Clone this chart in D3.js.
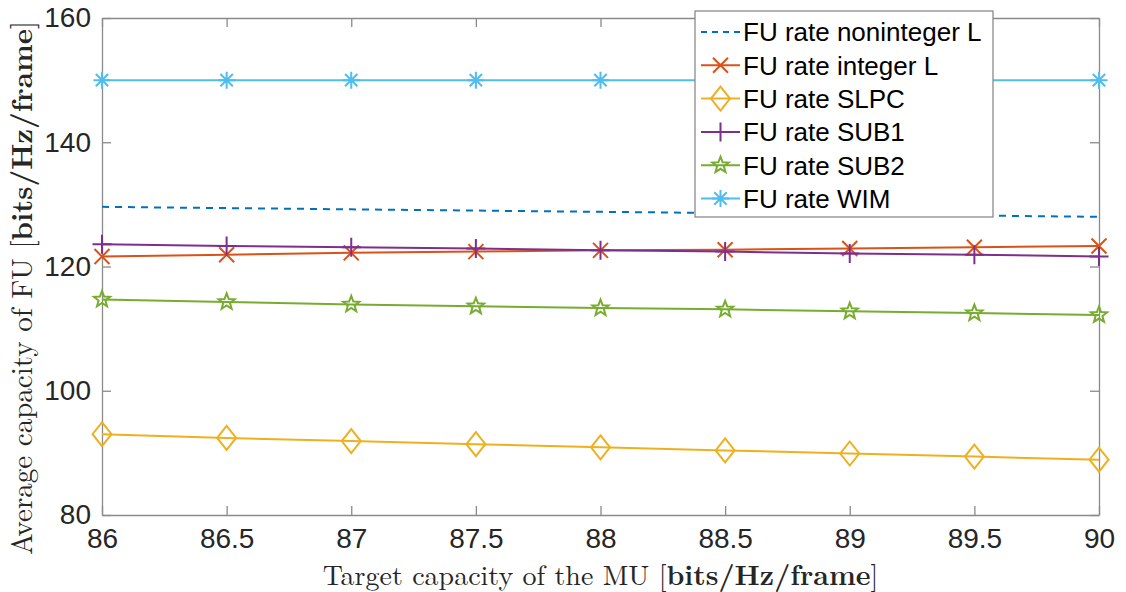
<!DOCTYPE html>
<html>
<head>
<meta charset="utf-8">
<script src="https://cdn.jsdelivr.net/npm/d3@7"></script>
<style>
  body { margin: 0; background: #fff; }
  svg { display: block; }
</style>
</head>
<body>
<svg id="chart" width="1126" height="592"></svg>
<script>
// target capacity of the MU
var xVals = [86, 86.5, 87, 87.5, 88, 88.5, 89, 89.5, 90];

var nonintegerL = [129.6, 129.4, 129.2, 129.0, 128.8, 128.6, 128.4, 128.2, 128.0];
var integerL    = [121.6, 121.9, 122.2, 122.4, 122.6, 122.7, 122.9, 123.1, 123.3];
var slpc        = [93.0, 92.4, 91.9, 91.4, 90.9, 90.4, 89.9, 89.4, 88.9];
var sub1        = [123.6, 123.3, 123.1, 122.9, 122.6, 122.4, 122.1, 121.9, 121.6];
var sub2        = [114.7, 114.3, 113.9, 113.6, 113.3, 113.1, 112.8, 112.5, 112.2];
var wim         = [150, 150, 150, 150, 150, 150, 150, 150, 150];

var seriesNames = ["FU rate noninteger L", "FU rate integer L", "FU rate SLPC",
                   "FU rate SUB1", "FU rate SUB2", "FU rate WIM"];

var xTicks = [86, 86.5, 87, 87.5, 88, 88.5, 89, 89.5, 90];
var yTicks = [80, 100, 120, 140, 160];

var series = [
    {name: seriesNames[0], values: nonintegerL, color: "#0072BD", dash: "7,6", marker: null},
    {name: seriesNames[1], values: integerL,    color: "#D95319", dash: null,  marker: "x"},
    {name: seriesNames[2], values: slpc,        color: "#EDB120", dash: null,  marker: "diamond"},
    {name: seriesNames[3], values: sub1,        color: "#7E2F8E", dash: null,  marker: "plus"},
    {name: seriesNames[4], values: sub2,        color: "#77AC30", dash: null,  marker: "star"},
    {name: seriesNames[5], values: wim,         color: "#4DBEEE", dash: null,  marker: "asterisk"}
];

const margin = {top: 18, right: 27, bottom: 77, left: 102};
const width = 1126 - margin.left - margin.right;
const height = 592 - margin.top - margin.bottom;

const svg = d3.select("#chart");
const G = svg.append("g").attr("transform", "translate(" + margin.left + "," + margin.top + ")");

const x = d3.scaleLinear().domain([86, 90]).range([0, width]);
const y = d3.scaleLinear().domain([80, 160]).range([height, 0]);

const axisColor = "#8a8a8a";
const textColor = "#262626";
const tickFont = "'Liberation Sans', Arial, sans-serif";
const tickLen = 9;

// axes (ticks inward on all four sides)
function styleAxis(g) {
    g.selectAll("path.domain").attr("stroke", axisColor).attr("stroke-width", 1.3);
    g.selectAll(".tick line").attr("stroke", axisColor).attr("stroke-width", 1.3);
    g.selectAll(".tick text").attr("fill", textColor)
        .style("font-family", tickFont).style("font-size", "28px");
}

G.append("g")
    .attr("transform", "translate(0," + height + ")")
    .call(d3.axisBottom(x).tickValues(xTicks).tickSizeInner(-tickLen).tickSizeOuter(0)
        .tickPadding(13).tickFormat(d3.format("")))
    .call(styleAxis);

G.append("g")
    .call(d3.axisTop(x).tickValues(xTicks).tickSizeInner(-tickLen).tickSizeOuter(0).tickFormat(""))
    .call(styleAxis);

G.append("g")
    .call(d3.axisLeft(y).tickValues(yTicks).tickSizeInner(-tickLen).tickSizeOuter(0).tickPadding(11))
    .call(styleAxis);

G.append("g")
    .attr("transform", "translate(" + width + ",0)")
    .call(d3.axisRight(y).tickValues(yTicks).tickSizeInner(-tickLen).tickSizeOuter(0).tickFormat(""))
    .call(styleAxis);

// markers
function markerPath(type) {
    var p = d3.path();
    if (type === "x") {
        var s = 7.5;
        p.moveTo(-s, -s); p.lineTo(s, s);
        p.moveTo(-s, s); p.lineTo(s, -s);
    } else if (type === "plus") {
        var s = 9.5;
        p.moveTo(-s, 0); p.lineTo(s, 0);
        p.moveTo(0, -s); p.lineTo(0, s);
    } else if (type === "asterisk") {
        var s = 8.5, d = 6.2;
        p.moveTo(-s, 0); p.lineTo(s, 0);
        p.moveTo(0, -s); p.lineTo(0, s);
        p.moveTo(-d, -d); p.lineTo(d, d);
        p.moveTo(-d, d); p.lineTo(d, -d);
    } else if (type === "diamond") {
        p.moveTo(0, -12); p.lineTo(9.5, 0); p.lineTo(0, 12); p.lineTo(-9.5, 0); p.closePath();
    } else if (type === "star") {
        var R = 8.5, r = 3.6;
        for (var i = 0; i < 10; i++) {
            var a = -Math.PI / 2 + i * Math.PI / 5;
            var rad = i % 2 === 0 ? R : r;
            if (i === 0) p.moveTo(rad * Math.cos(a), rad * Math.sin(a));
            else p.lineTo(rad * Math.cos(a), rad * Math.sin(a));
        }
        p.closePath();
    }
    return p.toString();
}

const line = d3.line()
    .x(function(d, i) { return x(xVals[i]); })
    .y(function(d) { return y(d); });

series.forEach(function(s) {
    const sg = G.append("g").attr("class", "series");
    sg.append("path")
        .attr("d", line(s.values))
        .attr("fill", "none")
        .attr("stroke", s.color)
        .attr("stroke-width", 2)
        .attr("stroke-dasharray", s.dash);

    if (s.marker) {
        sg.selectAll(".marker")
            .data(s.values)
            .enter()
            .append("path")
            .attr("class", "marker")
            .attr("transform", function(d, i) { return "translate(" + x(xVals[i]) + "," + y(d) + ")"; })
            .attr("d", markerPath(s.marker))
            .attr("fill", "none")
            .attr("stroke", s.color)
            .attr("stroke-width", 2);
    }
});

// legend
const legend = svg.append("g").attr("transform", "translate(695,11)");
legend.append("rect")
    .attr("width", 298)
    .attr("height", 206)
    .attr("fill", "#fff")
    .attr("stroke", "#8a8a8a")
    .attr("stroke-width", 1.3);

const rows = legend.selectAll(".row")
    .data(series)
    .enter()
    .append("g")
    .attr("class", "row")
    .attr("transform", function(d, i) { return "translate(0," + (21 + i * 33.3) + ")"; });

rows.append("line")
    .attr("x1", 6).attr("x2", 45)
    .attr("stroke", function(d) { return d.color; })
    .attr("stroke-width", 2)
    .attr("stroke-dasharray", function(d) { return d.dash ? "6,5" : null; });

rows.filter(function(d) { return d.marker; })
    .append("path")
    .attr("transform", "translate(25.5,0)")
    .attr("d", function(d) { return markerPath(d.marker); })
    .attr("fill", "none")
    .attr("stroke", function(d) { return d.color; })
    .attr("stroke-width", 2);

rows.append("text")
    .attr("x", 48)
    .attr("dy", "0.36em")
    .attr("fill", "#000")
    .style("font-family", tickFont)
    .style("font-size", "26px")
    .text(function(d) { return d.name; });

// axis titles
const serif = "'Latin Modern Roman', 'CMU Serif', 'Liberation Serif', 'DejaVu Serif', serif";

const xt = svg.append("text")
    .attr("x", margin.left + width / 2)
    .attr("y", 585)
    .attr("text-anchor", "middle")
    .attr("fill", textColor)
    .style("font-family", serif)
    .style("font-size", "28px");
xt.append("tspan").text("Target capacity of the MU [");
xt.append("tspan").style("font-weight", "bold").text("bits/Hz/frame");
xt.append("tspan").text("]");

const yt = svg.append("text")
    .attr("transform", "translate(32,288) rotate(-90)")
    .attr("text-anchor", "middle")
    .attr("fill", textColor)
    .style("font-family", serif)
    .style("font-size", "29px");
yt.append("tspan").text("Average capacity of FU [");
yt.append("tspan").style("font-weight", "bold").text("bits/Hz/frame");
yt.append("tspan").text("]");
</script>
</body>
</html>
